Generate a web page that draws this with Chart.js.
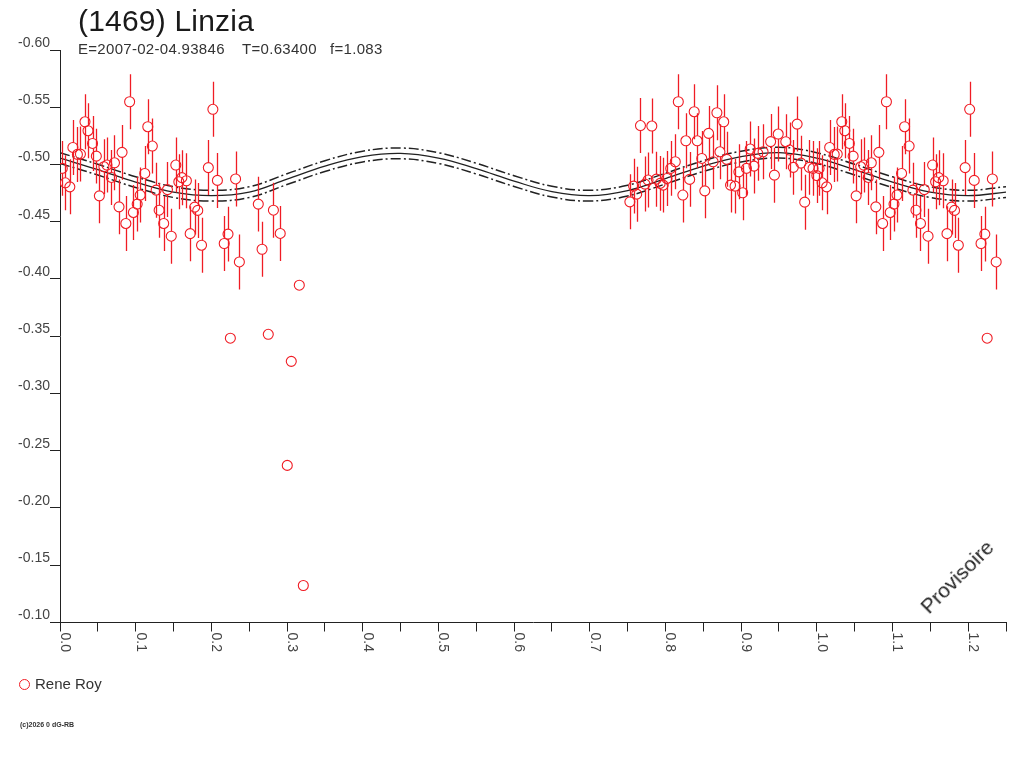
<!DOCTYPE html>
<html>
<head>
<meta charset="utf-8">
<title>(1469) Linzia</title>
<script src="https://cdn.jsdelivr.net/npm/chart.js@4.4.1/dist/chart.umd.min.js"></script>
<style>
  body { margin: 0; background: #fff; font-family: "Liberation Sans", Arial, sans-serif; }
  #wrap { position: relative; width: 1024px; height: 768px; overflow: hidden; }
  #lc { position: absolute; left: 0; top: 0; }
  .txt { position: absolute; white-space: pre; color: #222; line-height: 1; }
  #title { left: 78px; top: 6px; font-size: 30px; letter-spacing: 0.2px; color: #1a1a1a; }
  .sub { top: 41px; font-size: 15px; letter-spacing: 0.3px; color: #333; }
  #legend { left: 19px; top: 676px; font-size: 15px; color: #333; }
  #legend i { display: inline-block; width: 9px; height: 9px; border: 1px solid #f01c24; border-radius: 50%; margin-right: 5px; vertical-align: -1px; }
  #copy { left: 20px; top: 721px; font-size: 7px; font-weight: bold; color: #333; }
  #prov { left: 910px; top: 566px; font-size: 21px; color: #222; transform: rotate(-45deg); transform-origin: 50% 50%; }
</style>
</head>
<body>
<div id="wrap">
  <canvas id="lc" width="1024" height="768"></canvas>
  <div class="txt" id="title">(1469) Linzia</div>
  <div class="txt sub" style="left:78px">E=2007-02-04.93846</div>
  <div class="txt sub" style="left:242px">T=0.63400</div>
  <div class="txt sub" style="left:330px">f=1.083</div>
  <div class="txt" id="legend"><i></i>Rene Roy</div>
  <div class="txt" id="copy">(c)2026 0 dG-RB</div>
  <div class="txt" id="prov">Provisoire</div>
</div>
<script>
// phase / magnitude (Rene Roy)
const phaseObs = [
  0.003, 0.007, 0.013, 0.017, 0.023, 0.027, 0.033, 0.037, 0.043, 0.048,
  0.052, 0.058, 0.062, 0.068, 0.072, 0.078, 0.082, 0.087, 0.092, 0.097,
  0.102, 0.106, 0.112, 0.116, 0.122, 0.127, 0.131, 0.137, 0.142, 0.147,
  0.153, 0.157, 0.161, 0.167, 0.172, 0.178, 0.182, 0.187, 0.196, 0.202,
  0.208, 0.217, 0.222, 0.232, 0.237, 0.262, 0.267, 0.282, 0.291,
  0.753, 0.758, 0.762, 0.767, 0.773, 0.777, 0.782, 0.788, 0.793, 0.797,
  0.802, 0.807, 0.813, 0.817, 0.823, 0.827, 0.832, 0.838, 0.842, 0.848,
  0.852, 0.857, 0.863, 0.868, 0.872, 0.877, 0.881, 0.886, 0.892, 0.897,
  0.902, 0.907, 0.912, 0.917, 0.922, 0.929, 0.939, 0.944, 0.949, 0.959,
  0.964, 0.969, 0.974, 0.979, 0.984, 0.990, 0.995, 1.000
];
const magObs = [
  -0.4966, -0.4840, -0.4805, -0.5149, -0.5088, -0.5091, -0.5373, -0.5295, -0.5184, -0.5073,
  -0.4726, -0.4980, -0.4995, -0.4887, -0.5015, -0.4630, -0.5106, -0.4485, -0.5548, -0.4581,
  -0.4654, -0.4733, -0.4922, -0.5330, -0.5161, -0.4776, -0.4601, -0.4485, -0.4781, -0.4374,
  -0.4995, -0.4849, -0.4885, -0.4858, -0.4396, -0.4628, -0.4599, -0.4295, -0.4973, -0.5482,
  -0.4861, -0.4310, -0.4392, -0.4874, -0.4149, -0.4654, -0.4260, -0.4601, -0.4398,
  -0.4674, -0.4811, -0.4741, -0.5340, -0.4829, -0.4864, -0.5336, -0.4872, -0.4835, -0.4820,
  -0.4878, -0.4966, -0.5024, -0.5548, -0.4733, -0.5207, -0.4870, -0.5461, -0.5207, -0.5053,
  -0.4770, -0.5272, -0.5024, -0.5452, -0.5111, -0.5373, -0.5045, -0.4820, -0.4811, -0.4936,
  -0.4753, -0.4966, -0.5135, -0.4986, -0.5097, -0.5111, -0.5200, -0.4907, -0.5266, -0.5199,
  -0.5126, -0.4975, -0.5353, -0.5012, -0.4671, -0.4975, -0.4966, -0.4903
];
const errBar = 0.024;

// points without error bars
const phaseOut = [0.2251, 0.2752, 0.3162, 0.3056, 0.3003, 0.3215];
const magOut = [-0.3483, -0.3517, -0.3946, -0.3281, -0.2372, -0.1323];

// fitted curve and its envelope
const fitPhase = [0, 0.05, 0.10, 0.15, 0.20, 0.25, 0.30, 0.35, 0.40, 0.45, 0.50, 0.55, 0.60,
  0.65, 0.70, 0.75, 0.80, 0.85, 0.90, 0.95, 1.00, 1.05, 1.10, 1.15, 1.20, 1.25];
const fitMag = [-0.5056, -0.4955, -0.4846, -0.4759, -0.4728, -0.4759, -0.4872, -0.4986, -0.5069,
  -0.5097, -0.5056, -0.4964, -0.4855, -0.4763, -0.4728, -0.4772, -0.4877, -0.4986, -0.5069,
  -0.5104, -0.5056, -0.4955, -0.4846, -0.4759, -0.4728, -0.4759];
const fitUpper = [-0.5103, -0.5002, -0.4893, -0.4806, -0.4775, -0.4806, -0.4919, -0.5033, -0.5116,
  -0.5144, -0.5103, -0.5011, -0.4902, -0.4810, -0.4775, -0.4819, -0.4924, -0.5033, -0.5116,
  -0.5151, -0.5103, -0.5002, -0.4893, -0.4806, -0.4775, -0.4806];
const fitLower = [-0.5009, -0.4908, -0.4799, -0.4712, -0.4681, -0.4712, -0.4825, -0.4939, -0.5022,
  -0.5050, -0.5009, -0.4917, -0.4808, -0.4716, -0.4681, -0.4725, -0.4830, -0.4939, -0.5022,
  -0.5057, -0.5009, -0.4908, -0.4799, -0.4712, -0.4681, -0.4712];

const xTickLabels = [0.0, 0.1, 0.2, 0.3, 0.4, 0.5, 0.6, 0.7, 0.8, 0.9, 1.0, 1.1, 1.2];
const yTickValues = [-0.60, -0.55, -0.50, -0.45, -0.40, -0.35, -0.30, -0.25, -0.20, -0.15, -0.10];

const red = '#f01c24';
const ink = '#222';

// phase 0..0.25 is shown again after 1.0
function folded(ph, mg) {
  const pts = [];
  ph.forEach((p, i) => {
    pts.push({ x: p, y: mg[i] });
    if (p < 0.26) pts.push({ x: p + 1, y: mg[i] });
  });
  return pts;
}
const obsPoints = folded(phaseObs, magObs);
const outPoints = folded(phaseOut, magOut);
const curve = arr => fitPhase.map((p, i) => ({ x: p, y: arr[i] }));

const errorBars = {
  id: 'errorBars',
  afterDatasetsDraw(chart) {
    const { ctx, chartArea, scales: { x, y } } = chart;
    const r = 5;
    ctx.save();
    ctx.beginPath();
    ctx.rect(chartArea.left, chartArea.top, chartArea.width, chartArea.height);
    ctx.clip();
    ctx.strokeStyle = red;
    ctx.lineWidth = 1.3;
    obsPoints.forEach(p => {
      const px = Math.round(x.getPixelForValue(p.x)) + 0.5;
      const py = y.getPixelForValue(p.y);
      ctx.beginPath();
      ctx.moveTo(px, y.getPixelForValue(p.y - errBar));
      ctx.lineTo(px, py - r);
      ctx.moveTo(px, py + r);
      ctx.lineTo(px, y.getPixelForValue(p.y + errBar));
      ctx.stroke();
    });
    ctx.restore();
  }
};

// x labels read top to bottom, right of each tick
const xLabels = {
  id: 'xLabels',
  afterDraw(chart) {
    const { ctx, chartArea, scales: { x } } = chart;
    ctx.save();
    ctx.font = '14px "Liberation Sans", Arial, sans-serif';
    ctx.fillStyle = '#444';
    ctx.textBaseline = 'alphabetic';
    xTickLabels.forEach(v => {
      ctx.save();
      ctx.translate(Math.round(x.getPixelForValue(v)) + 1, chartArea.bottom + 10);
      ctx.rotate(Math.PI / 2);
      ctx.fillText(v.toFixed(1), 0, 0);
      ctx.restore();
    });
    ctx.restore();
  }
};

new Chart(document.getElementById('lc'), {
  type: 'scatter',
  data: {
    datasets: [
      {
        label: 'Rene Roy',
        data: obsPoints,
        pointStyle: 'circle',
        pointRadius: 5,
        borderWidth: 1.1,
        borderColor: red,
        backgroundColor: 'rgba(0,0,0,0)'
      },
      {
        label: 'Rene Roy (no error)',
        data: outPoints,
        pointStyle: 'circle',
        pointRadius: 5,
        borderWidth: 1.1,
        borderColor: red,
        backgroundColor: 'rgba(0,0,0,0)'
      },
      {
        label: 'fit',
        data: curve(fitMag),
        showLine: true,
        pointRadius: 0,
        tension: 0.4,
        borderColor: ink,
        borderWidth: 1.3
      },
      {
        label: 'fit +',
        data: curve(fitUpper),
        showLine: true,
        pointRadius: 0,
        tension: 0.4,
        borderColor: ink,
        borderWidth: 1.5,
        borderDash: [10, 3, 2, 3]
      },
      {
        label: 'fit -',
        data: curve(fitLower),
        showLine: true,
        pointRadius: 0,
        tension: 0.4,
        borderColor: ink,
        borderWidth: 1.5,
        borderDash: [10, 3, 2, 3]
      }
    ]
  },
  options: {
    responsive: false,
    animation: false,
    layout: { padding: { left: 0, top: 50, right: 18, bottom: 135.5 } },
    plugins: {
      legend: { display: false },
      tooltip: { enabled: false }
    },
    scales: {
      x: {
        type: 'linear',
        min: 0,
        max: 1.25,
        ticks: { display: false, stepSize: 0.05 },
        grid: { drawOnChartArea: false, drawTicks: true, tickLength: 9, color: ink },
        border: { display: true, color: ink, width: 1 },
        afterFit: s => { s.height = 10; }
      },
      y: {
        type: 'linear',
        reverse: true,
        min: -0.6,
        max: -0.1,
        afterBuildTicks: s => { s.ticks = yTickValues.map(v => ({ value: v })); },
        ticks: {
          padding: 0,
          labelOffset: -7,
          color: '#444',
          font: { family: '"Liberation Sans", Arial, sans-serif', size: 14 },
          callback: v => Number(v).toFixed(2)
        },
        grid: { drawOnChartArea: false, drawTicks: true, tickLength: 10, color: ink },
        border: { display: true, color: ink, width: 1 },
        afterFit: s => { s.width = 60; }
      }
    }
  },
  plugins: [errorBars, xLabels]
});
</script>
</body>
</html>
